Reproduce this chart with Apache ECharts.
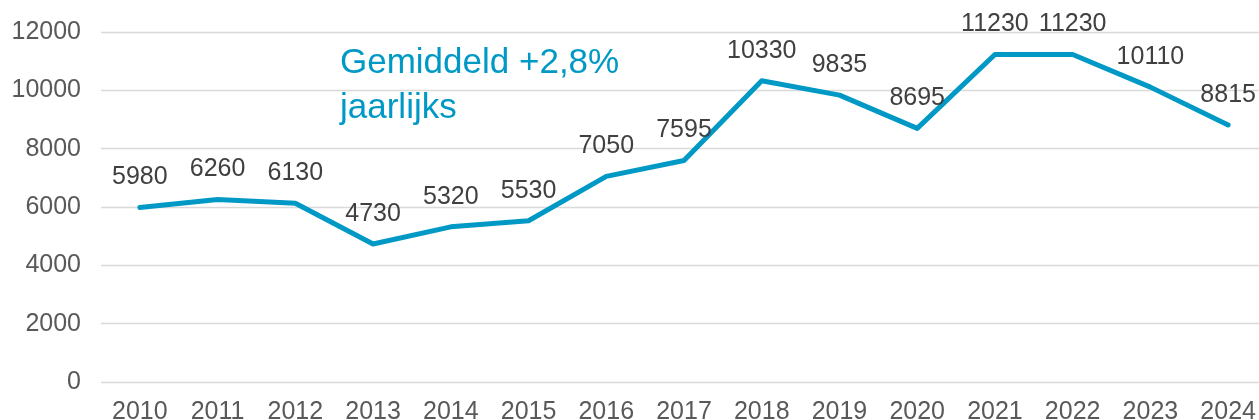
<!DOCTYPE html>
<html>
<head>
<meta charset="utf-8">
<script src="https://cdn.jsdelivr.net/npm/echarts@6/dist/echarts.min.js"></script>
<style>
html,body{margin:0;padding:0;background:#fff;}
#chart{width:1259px;height:420px;}
</style>
</head>
<body>
<div id="chart"></div>
<script>
const years = ['2010','2011','2012','2013','2014','2015','2016','2017','2018','2019','2020','2021','2022','2023','2024'];
const values = [5980, 6260, 6130, 4730, 5320, 5530, 7050, 7595, 10330, 9835, 8695, 11230, 11230, 10110, 8815];
const annotation = ['Gemiddeld +2,8%', 'jaarlijks'];

const FONT = '"Liberation Sans", Arial, sans-serif';
const chart = echarts.init(document.getElementById('chart'), null, {renderer: 'canvas'});
chart.setOption({
  animation: false,
  backgroundColor: '#ffffff',
  grid: {left: 101, right: -8, top: 32, bottom: 38, containLabel: false, outerBoundsMode: 'none'},
  xAxis: {
    type: 'category',
    data: years,
    boundaryGap: true,
    axisLine: {show: false},
    axisTick: {show: false},
    axisLabel: {color: '#595959', fontSize: 25, fontFamily: FONT, margin: 18, interval: 0}
  },
  yAxis: {
    type: 'value',
    min: 0, max: 12000, interval: 2000,
    axisLine: {show: false},
    axisTick: {show: false},
    axisLabel: {color: '#595959', fontSize: 25, fontFamily: FONT, margin: 20, formatter: v => String(v)},
    splitLine: {lineStyle: {color: '#d9d9d9', width: 1.3}}
  },
  series: [{
    type: 'line',
    data: values,
    showSymbol: true,
    symbol: 'circle',
    symbolSize: 1,
    itemStyle: {color: 'rgba(0,0,0,0)', borderWidth: 0},
    lineStyle: {color: '#0099C6', width: 5, cap: 'round', join: 'round'},
    label: {show: true, position: 'top', distance: 17, color: '#404040', fontSize: 25, fontFamily: FONT, formatter: p => String(p.value)},
    labelLayout: {hideOverlap: false},
    emphasis: {disabled: true}
  }],
  graphic: [{
    type: 'text',
    left: 340,
    top: 41,
    style: {
      text: annotation.join('\n'),
      fill: '#0099C6',
      font: '35px ' + FONT,
      lineHeight: 45
    }
  }]
});
</script>
</body>
</html>
